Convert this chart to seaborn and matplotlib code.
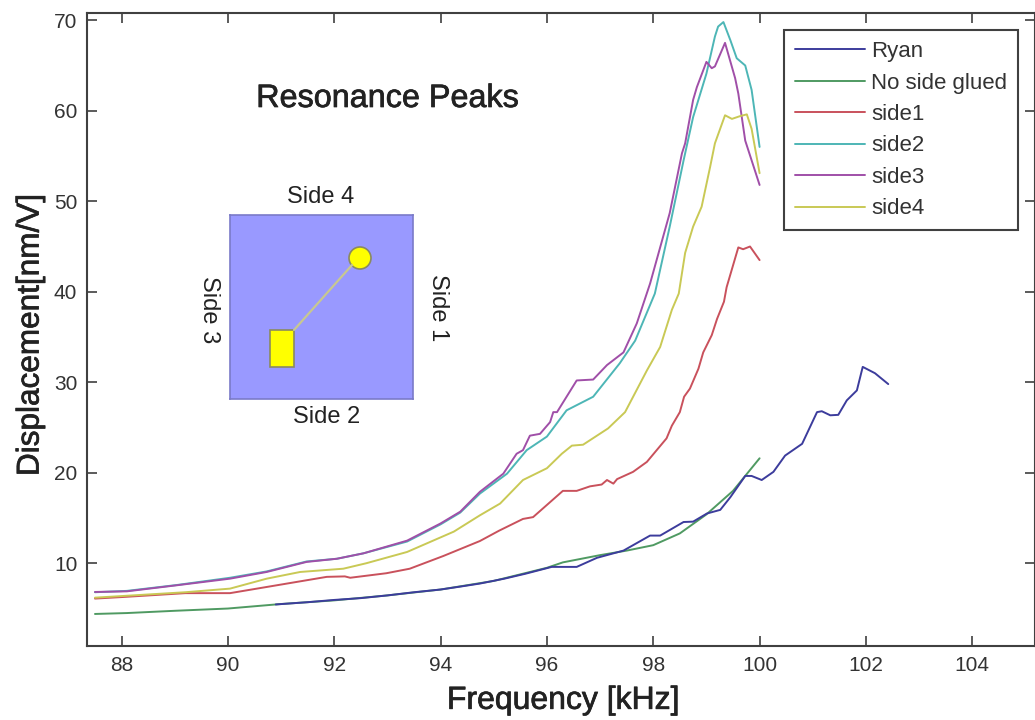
import numpy as np
import pandas as pd
import seaborn as sns
import matplotlib.pyplot as plt
import matplotlib.patheffects as pe
from matplotlib.patches import Circle, Rectangle

# Values
ryan_x = [90.9, 91.5, 92, 92.5, 93, 93.5, 94, 94.4, 94.74, 95.2, 95.6, 96.09, 96.56,
          96.94, 97.44, 97.94, 98.13, 98.57, 98.75, 99.01, 99.26, 99.45, 99.73, 99.85, 100.04, 100.26, 100.48,
          100.8, 101.08, 101.17, 101.33, 101.48, 101.64, 101.83, 101.94, 102.17, 102.42]
ryan_y = [5.45, 5.7, 5.95, 6.15, 6.45, 6.8, 7.1, 7.45, 7.76, 8.3, 8.85, 9.6, 9.6,
          10.6, 11.4, 13.06, 13.06, 14.56, 14.6, 15.5, 15.9, 17.3, 19.65, 19.65, 19.2, 20.1, 21.9,
          23.2, 26.7, 26.8, 26.35, 26.4, 28.0, 29.1, 31.7, 31.0, 29.8]

glued_x = [87.5, 88.1, 89, 90, 91, 92, 93, 94, 95, 96, 96.3, 97, 97.5, 98, 98.5, 99, 99.5, 100]
glued_y = [4.4, 4.5, 4.75, 5.0, 5.5, 5.9, 6.45, 7.1, 8.05, 9.5, 10.1, 10.9, 11.4, 12.0, 13.3, 15.4, 18.0, 21.6]

side1_x = [87.5, 88.1, 89.2, 90.04, 90.92, 91.86, 92.2, 92.3, 92.98, 93.42, 94.05, 94.74, 95.1, 95.55, 95.74,
           96.3, 96.56, 96.81, 97.03, 97.13, 97.25, 97.32, 97.62, 97.88, 98.25, 98.35, 98.5, 98.58, 98.69,
           98.85, 98.94, 99.1, 99.2, 99.33, 99.38, 99.6, 99.69, 99.82, 100]
side1_y = [6.1, 6.3, 6.7, 6.7, 7.57, 8.5, 8.55, 8.4, 8.9, 9.4, 10.8, 12.46, 13.6, 14.9, 15.1,
           18.0, 18.0, 18.5, 18.7, 19.2, 18.8, 19.3, 20.1, 21.2, 23.8, 25.2, 26.7, 28.4, 29.3,
           31.5, 33.3, 35.2, 37.0, 38.9, 40.5, 44.9, 44.7, 45.0, 43.5]

side2_x = [87.5, 88.1, 89.04, 90.04, 90.73, 91.48, 92.05, 92.55, 93.37, 94, 94.37, 94.74, 95.25, 95.62, 96,
           96.37, 96.87, 97.37, 97.66, 98.03, 98.31, 98.57, 98.75, 99, 99.16, 99.22, 99.32, 99.45, 99.57,
           99.73, 99.85, 100]
side2_y = [6.8, 6.95, 7.6, 8.4, 9.1, 10.2, 10.5, 11.1, 12.4, 14.3, 15.6, 17.7, 19.9, 22.5, 24.0,
           26.9, 28.4, 32.1, 34.6, 39.8, 47.2, 54.5, 59.3, 64.1, 68.2, 69.3, 69.8, 67.8, 65.8,
           65.0, 62.3, 56.0]

side3_x = [87.5, 88.1, 89.04, 90.04, 90.73, 91.48, 92.05, 92.55, 93.37, 94, 94.37, 94.74, 95.18, 95.43, 95.55,
           95.68, 95.87, 96.06, 96.12, 96.19, 96.56, 96.87, 97.13, 97.44, 97.69, 97.94, 98.31, 98.54, 98.6,
           98.75, 98.82, 99, 99.1, 99.16, 99.35, 99.54, 99.6, 99.73, 100]
side3_y = [6.83, 6.9, 7.57, 8.3, 9.04, 10.15, 10.5, 11.1, 12.5, 14.4, 15.7, 17.9, 19.9, 22.1, 22.5,
           24.1, 24.3, 25.6, 26.7, 26.7, 30.2, 30.3, 31.9, 33.3, 36.5, 40.9, 48.7, 55.3, 56.4,
           61.2, 62.6, 65.4, 64.7, 64.9, 67.5, 63.6, 61.9, 56.7, 51.8]

side4_x = [87.5, 89.2, 90.04, 90.73, 91.36, 92.17, 92.6, 93.37, 94.25, 94.74, 95.12, 95.55, 96, 96.28, 96.47,
           96.68, 97.15, 97.47, 97.88, 98.13, 98.35, 98.48, 98.6, 98.75, 98.91, 99.07, 99.16, 99.35, 99.48,
           99.63, 99.76, 99.85, 100]
side4_y = [6.2, 6.8, 7.2, 8.3, 9.04, 9.4, 10.0, 11.25, 13.5, 15.3, 16.6, 19.2, 20.5, 22.1, 23.0,
           23.1, 24.9, 26.7, 31.3, 33.9, 38.0, 39.8, 44.3, 47.2, 49.4, 53.8, 56.4, 59.5, 59.1,
           59.4, 59.6, 58.0, 53.1]

names = ["Ryan", "No side glued", "side1", "side2", "side3", "side4"]
colors = ["#3c3c9c", "#4f9a62", "#c9515c", "#4db6b6", "#a04fa8", "#c9c955"]
xs = [ryan_x, glued_x, side1_x, side2_x, side3_x, side4_x]
ys = [ryan_y, glued_y, side1_y, side2_y, side3_y, side4_y]

x_ticks = [88, 90, 92, 94, 96, 98, 100, 102, 104]
y_ticks = [10, 20, 30, 40, 50, 60, 70]

df = pd.concat([pd.DataFrame({"freq": x, "disp": y, "series": n}) for x, y, n in zip(xs, ys, names)])

sns.set_theme(style="white")
plt.rcParams["font.family"] = ["Liberation Sans", "DejaVu Sans"]

W, H = 1035, 720
fig = plt.figure(figsize=(W / 100, H / 100), dpi=100)
ax = fig.add_axes([87 / W, 1 - 646 / H, 948 / W, 633 / H])

sns.lineplot(data=df, x="freq", y="disp", hue="series", hue_order=names, palette=colors,
             estimator=None, sort=False, linewidth=1.4, ax=ax)
ax.get_lines()[0].set_zorder(3)  # Ryan sits on top of the green one

ax.set_xlim(87.35, 105.18)
ax.set_ylim(0.86, 70.8)
ax.set_xticks(x_ticks)
ax.set_yticks(y_ticks)
ax.tick_params(direction="in", length=7, width=1.2, color="#404040", top=True, right=True,
               bottom=True, left=True, labelsize=15, labelcolor="#333333", pad=7)
for s in ax.spines.values():
    s.set_color("#404040")
    s.set_linewidth(1.5)

# the big labels look a bit heavier than regular in the reference
heavy = [pe.withStroke(linewidth=0.5, foreground="#222222")]
ax.set_xlabel("Frequency [kHz]", fontsize=23, color="#222222", labelpad=8, x=0.5025, path_effects=heavy)
ax.set_ylabel("Displacement[nm/V]", fontsize=22.7, color="#222222", labelpad=6, y=0.491, path_effects=heavy)

leg = ax.legend(loc="upper left", bbox_to_anchor=((784 - 87) / 948, (646 - 30) / 633), borderaxespad=0,
                fontsize=16, labelspacing=0.47, handlelength=3.15, handletextpad=0.27, borderpad=0.5,
                fancybox=False, framealpha=1, edgecolor="#404040", labelcolor="#333333")
leg.get_frame().set_linewidth(1.5)

fig.text(387.5 / W, 1 - 99 / H, "Resonance Peaks", fontsize=23.3, color="#222222", ha="center", va="center",
         path_effects=heavy)

# little sketch of the plate
sketch = fig.add_axes([230 / W, 1 - 399 / H, 183 / W, 184 / H])
sketch.set_xlim(0, 183)
sketch.set_ylim(184, 0)
sketch.set_xticks([])
sketch.set_yticks([])
sketch.set_facecolor("#9999ff")
for s in sketch.spines.values():
    s.set_color("#7a7ac8")
    s.set_linewidth(1.2)
sketch.plot([64, 122], [115, 50], color="#c8c890", linewidth=1.6)
sketch.add_patch(Rectangle((40, 115), 24, 37, facecolor="#ffff00", edgecolor="#8a8a60", linewidth=1.2))
sketch.add_patch(Circle((130, 43), 11, facecolor="#ffff00", edgecolor="#8a8a60", linewidth=1.2))

side_kw = dict(fontsize=17, color="#222222", ha="center", va="center")
fig.text(321 / W, 1 - 197 / H, "Side 4", **side_kw)
fig.text(327 / W, 1 - 417 / H, "Side 2", **side_kw)
fig.text(209 / W, 1 - 310 / H, "Side 3", rotation=-90, **side_kw)
fig.text(438 / W, 1 - 308 / H, "Side 1", rotation=-90, **side_kw)

fig.savefig("out.png", dpi=100)
